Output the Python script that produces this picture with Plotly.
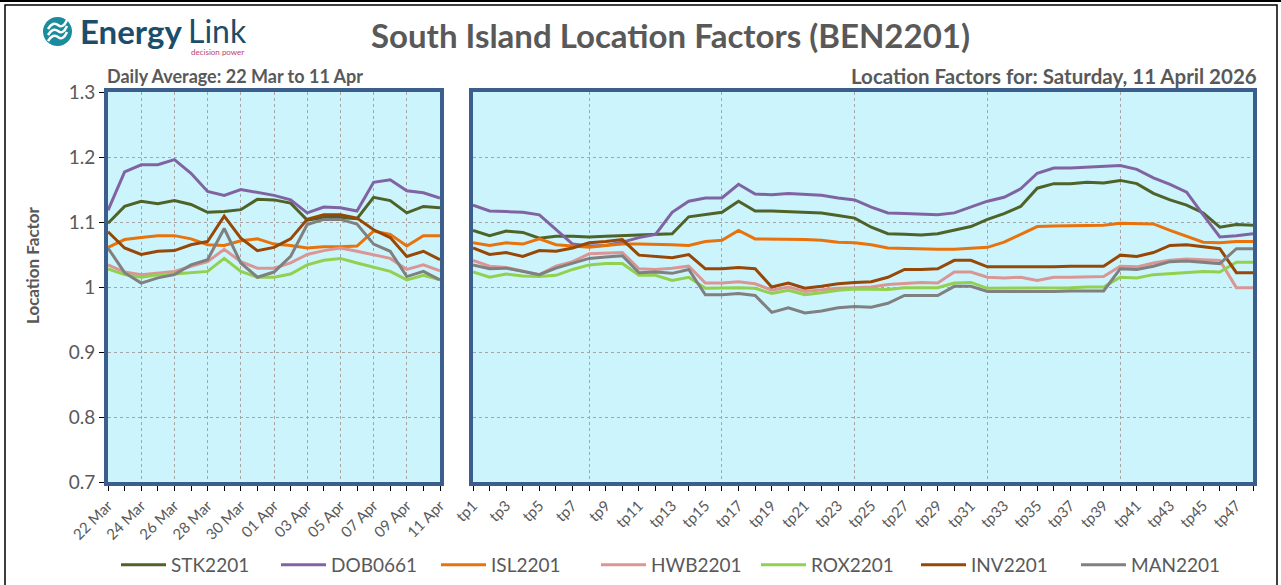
import plotly.graph_objects as go

W, H = 1281, 585

# ---------------- data ----------------
dates = ["2026-03-22", "2026-03-23", "2026-03-24", "2026-03-25", "2026-03-26", "2026-03-27",
         "2026-03-28", "2026-03-29", "2026-03-30", "2026-03-31", "2026-04-01", "2026-04-02",
         "2026-04-03", "2026-04-04", "2026-04-05", "2026-04-06", "2026-04-07", "2026-04-08",
         "2026-04-09", "2026-04-10", "2026-04-11"]

tp_index = list(range(1, 49))
tp_labels = ["tp%d" % i for i in tp_index]

series_names = ["STK2201", "DOB0661", "ISL2201", "HWB2201", "ROX2201", "INV2201", "MAN2201"]
series_colors = ["#4F6228", "#8064A2", "#E8720C", "#DA9694", "#92D050", "#974706", "#808080"]

# Daily averages (22 Mar .. 11 Apr)
daily_STK = [1.098, 1.124, 1.132, 1.128, 1.133, 1.127, 1.115, 1.116, 1.119, 1.135, 1.134,
             1.129, 1.103, 1.107, 1.107, 1.105, 1.138, 1.133, 1.114, 1.124, 1.122]
daily_DOB = [1.118, 1.177, 1.188, 1.188, 1.196, 1.175, 1.147, 1.141, 1.150, 1.145, 1.141,
             1.134, 1.114, 1.123, 1.122, 1.117, 1.161, 1.165, 1.148, 1.145, 1.137]
daily_ISL = [1.061, 1.073, 1.076, 1.079, 1.079, 1.074, 1.065, 1.064, 1.071, 1.074, 1.066,
             1.064, 1.060, 1.062, 1.062, 1.063, 1.086, 1.081, 1.063, 1.079, 1.079]
daily_HWB = [1.034, 1.023, 1.019, 1.021, 1.024, 1.032, 1.039, 1.058, 1.039, 1.029, 1.029,
             1.037, 1.050, 1.056, 1.060, 1.055, 1.049, 1.044, 1.027, 1.034, 1.025]
daily_ROX = [1.028, 1.019, 1.015, 1.019, 1.020, 1.022, 1.024, 1.044, 1.024, 1.015, 1.015,
             1.020, 1.034, 1.041, 1.044, 1.037, 1.030, 1.024, 1.011, 1.018, 1.011]
daily_INV = [1.085, 1.060, 1.050, 1.055, 1.056, 1.065, 1.070, 1.109, 1.075, 1.056, 1.061,
             1.074, 1.104, 1.111, 1.111, 1.106, 1.088, 1.076, 1.047, 1.055, 1.042]
daily_MAN = [1.060, 1.022, 1.006, 1.014, 1.019, 1.034, 1.042, 1.090, 1.037, 1.015, 1.023,
             1.047, 1.096, 1.104, 1.104, 1.097, 1.066, 1.055, 1.016, 1.024, 1.011]

# Trading periods for Saturday, 11 April 2026
tp_STK = [1.087, 1.079, 1.086, 1.084, 1.075, 1.078, 1.078, 1.077, 1.078, 1.079, 1.081, 1.082,
          1.082, 1.108, 1.112, 1.115, 1.132, 1.117, 1.117, 1.116, 1.115, 1.114, 1.110, 1.106,
          1.092, 1.082, 1.081, 1.080, 1.082, 1.087, 1.093, 1.104, 1.113, 1.124, 1.152, 1.159,
          1.159, 1.161, 1.160, 1.164, 1.159, 1.144, 1.134, 1.126, 1.114, 1.092, 1.096, 1.095]
tp_DOB = [1.126, 1.117, 1.116, 1.115, 1.111, 1.088, 1.066, 1.063, 1.064, 1.069, 1.076, 1.081,
          1.115, 1.132, 1.137, 1.137, 1.158, 1.143, 1.142, 1.144, 1.142, 1.141, 1.137, 1.134,
          1.123, 1.114, 1.113, 1.112, 1.111, 1.114, 1.123, 1.132, 1.138, 1.151, 1.175, 1.183,
          1.183, 1.184, 1.185, 1.187, 1.181, 1.168, 1.158, 1.146, 1.111, 1.077, 1.079, 1.082]
tp_ISL = [1.068, 1.064, 1.068, 1.066, 1.074, 1.065, 1.063, 1.061, 1.064, 1.066, 1.066, 1.066,
          1.065, 1.064, 1.070, 1.072, 1.087, 1.074, 1.074, 1.074, 1.073, 1.072, 1.069, 1.068,
          1.065, 1.060, 1.059, 1.058, 1.058, 1.058, 1.059, 1.061, 1.069, 1.081, 1.093, 1.094,
          1.094, 1.095, 1.095, 1.098, 1.097, 1.097, 1.087, 1.078, 1.069, 1.068, 1.070, 1.070]
tp_HWB = [1.041, 1.032, 1.030, 1.024, 1.019, 1.032, 1.039, 1.051, 1.052, 1.053, 1.028, 1.027,
          1.029, 1.032, 1.006, 1.006, 1.008, 1.005, 0.995, 1.000, 0.993, 0.996, 0.998, 0.999,
          1.000, 1.004, 1.006, 1.007, 1.006, 1.023, 1.023, 1.015, 1.014, 1.015, 1.010, 1.015,
          1.015, 1.016, 1.016, 1.032, 1.031, 1.037, 1.041, 1.043, 1.042, 1.041, 0.999, 0.999]
tp_ROX = [1.023, 1.015, 1.020, 1.017, 1.016, 1.018, 1.027, 1.034, 1.036, 1.036, 1.018, 1.018,
          1.010, 1.015, 0.998, 0.999, 0.999, 0.998, 0.990, 0.995, 0.988, 0.991, 0.995, 0.997,
          0.996, 0.996, 0.999, 0.999, 0.999, 1.006, 1.007, 0.998, 0.998, 0.998, 0.999, 0.999,
          0.999, 1.000, 1.000, 1.015, 1.014, 1.019, 1.021, 1.023, 1.024, 1.023, 1.038, 1.038]
tp_INV = [1.060, 1.050, 1.053, 1.047, 1.056, 1.055, 1.060, 1.068, 1.070, 1.073, 1.049, 1.047,
          1.045, 1.050, 1.028, 1.028, 1.030, 1.028, 1.000, 1.006, 0.998, 1.001, 1.005, 1.007,
          1.008, 1.015, 1.027, 1.027, 1.028, 1.041, 1.041, 1.031, 1.031, 1.031, 1.030, 1.031,
          1.032, 1.032, 1.032, 1.049, 1.047, 1.053, 1.064, 1.065, 1.062, 1.059, 1.022, 1.022]
tp_MAN = [1.034, 1.028, 1.029, 1.024, 1.019, 1.029, 1.037, 1.044, 1.046, 1.048, 1.022, 1.023,
          1.021, 1.027, 0.988, 0.988, 0.990, 0.987, 0.961, 0.968, 0.960, 0.963, 0.968, 0.970,
          0.969, 0.975, 0.987, 0.987, 0.987, 1.001, 1.001, 0.993, 0.993, 0.993, 0.992, 0.993,
          0.994, 0.994, 0.994, 1.028, 1.027, 1.032, 1.039, 1.040, 1.038, 1.036, 1.059, 1.059]

daily_series = [daily_STK, daily_DOB, daily_ISL, daily_HWB, daily_ROX, daily_INV, daily_MAN]
tp_series = [tp_STK, tp_DOB, tp_ISL, tp_HWB, tp_ROX, tp_INV, tp_MAN]

y_tickvals = [0.7, 0.8, 0.9, 1.0, 1.1, 1.2, 1.3]
y_ticktext = ["0.7", "0.8", "0.9", "1", "1.1", "1.2", "1.3"]

# ---------------- styling ----------------
FONT = "Lato"
GREY = "#595959"
FRAME = "#3B5E8C"
BG = "#CCF4FC"
GRID = "#A6A6A6"


def px(x):
    return x / W


def py(y):
    return 1 - y / H


fig = go.Figure()

for name, color, vals in zip(series_names, series_colors, daily_series):
    fig.add_trace(go.Scatter(x=dates, y=vals, mode="lines", name=name,
                             line=dict(color=color, width=3), xaxis="x", yaxis="y",
                             legendgroup=name, showlegend=True))
for name, color, vals in zip(series_names, series_colors, tp_series):
    fig.add_trace(go.Scatter(x=tp_index, y=vals, mode="lines", name=name,
                             line=dict(color=color, width=3), xaxis="x2", yaxis="y2",
                             legendgroup=name, showlegend=False))

ydom = [py(482), py(92)]

axis_common = dict(showline=True, mirror=True, linecolor=FRAME, linewidth=4,
                   zeroline=False, automargin=False)

fig.update_layout(
    template="none",
    width=W, height=H, autosize=False,
    margin=dict(l=0, r=0, t=0, b=0, pad=0),
    paper_bgcolor="white",
    plot_bgcolor=BG,
    font=dict(family=FONT, color=GREY),
    xaxis=dict(
        domain=[px(108), px(440)], type="date",
        range=[dates[0], dates[-1]],
        tick0=dates[0], dtick=2 * 86400000, tickformat="%d %b",
        tickangle=-45, tickfont=dict(size=15, color=GREY, family=FONT),
        ticks="outside", ticklen=5, tickcolor="black", tickwidth=1,
        showgrid=True, gridcolor=GRID, griddash="dot", gridwidth=1,
        minor=dict(dtick=86400000, tick0=dates[0], ticks="outside", ticklen=5,
                   tickcolor="black", tickwidth=1, showgrid=False),
        anchor="y", **axis_common),
    yaxis=dict(
        domain=ydom, range=[0.7, 1.3], tickvals=y_tickvals, ticktext=y_ticktext,
        tickfont=dict(size=19, color=GREY, family=FONT),
        ticks="outside", ticklen=5, tickcolor="black", tickwidth=1,
        showgrid=True, gridcolor=GRID, griddash="dot", gridwidth=1,
        anchor="x", **axis_common),
    xaxis2=dict(
        domain=[px(473), px(1253)], range=[1, 48],
        tickvals=tp_index,
        ticktext=[lab if i % 2 == 1 else "" for i, lab in zip(tp_index, tp_labels)],
        tickangle=-45, tickfont=dict(size=15, color=GREY, family=FONT),
        ticks="outside", ticklen=5, tickcolor="black", tickwidth=1,
        showgrid=False,
        minor=dict(tickvals=[8, 16, 24, 32, 40], ticks="", showgrid=True,
                   gridcolor=GRID, griddash="dot", gridwidth=1),
        anchor="y2", **axis_common),
    yaxis2=dict(
        domain=ydom, range=[0.7, 1.3], tickvals=y_tickvals,
        showticklabels=False, ticks="",
        showgrid=True, gridcolor=GRID, griddash="dot", gridwidth=1,
        anchor="x2", **axis_common),
    legend=dict(orientation="h", x=px(676), xanchor="center", y=py(565), yanchor="middle",
                font=dict(size=19, color=GREY, family=FONT), entrywidth=100, itemwidth=45,
                bgcolor="rgba(0,0,0,0)", traceorder="normal"),
    showlegend=True,
)

annotations = [
    dict(text="<b>South Island Location Factors (BEN2201)</b>", x=px(670), y=py(35),
         xref="paper", yref="paper", xanchor="center", yanchor="middle", showarrow=False,
         font=dict(size=33, color=GREY, family=FONT)),
    dict(text="<b>Daily Average: 22 Mar to 11 Apr</b>", x=px(105), y=py(76),
         xref="paper", yref="paper", xanchor="left", yanchor="middle", showarrow=False,
         font=dict(size=18, color=GREY, family=FONT)),
    dict(text="<b>Location Factors for: Saturday, 11 April 2026</b>", x=px(1259), y=py(76),
         xref="paper", yref="paper", xanchor="right", yanchor="middle", showarrow=False,
         font=dict(size=20.5, color=GREY, family=FONT)),
    dict(text="<b>Location Factor</b>", x=px(33), y=py(265), textangle=-90,
         xref="paper", yref="paper", xanchor="center", yanchor="middle", showarrow=False,
         font=dict(size=17, color=GREY, family=FONT)),
    # logo
    dict(text="<b>Energy</b>", x=px(78), y=py(31), xref="paper", yref="paper",
         xanchor="left", yanchor="middle", showarrow=False,
         font=dict(size=33, color="#1B4E6B", family=FONT)),
    dict(text="Link", x=px(186), y=py(30), xref="paper", yref="paper",
         xanchor="left", yanchor="middle", showarrow=False, height=26,
         font=dict(size=32, color="#1B4E6B", family=FONT)),
    dict(text="decision power", x=px(246), y=py(52), xref="paper", yref="paper",
         xanchor="right", yanchor="middle", showarrow=False,
         font=dict(size=8, color="#C2406E", family=FONT)),
]
fig.update_layout(annotations=annotations)

shapes = [
    # outer border
    dict(type="rect", xref="paper", yref="paper", x0=px(5), y0=py(600), x1=px(1277), y1=py(5),
         line=dict(color="black", width=1.5), fillcolor="rgba(0,0,0,0)", layer="below"),
    dict(type="line", xref="paper", yref="paper", x0=0, y0=py(1), x1=1, y1=py(1),
         line=dict(color="black", width=2)),
    # logo circle
    dict(type="circle", xref="paper", yref="paper", x0=px(43), y0=py(46), x1=px(72), y1=py(17),
         fillcolor="#1A8C9C", line=dict(width=0)),
]
for dy in (-6, 0, 6):
    shapes.append(dict(
        type="path", xref="paper", yref="paper",
        path="M %.5f %.5f Q %.5f %.5f %.5f %.5f T %.5f %.5f" % (
            px(48), py(35 + dy), px(53), py(27 + dy), px(58), py(31 + dy), px(67), py(26 + dy)),
        line=dict(color="white", width=2.5), fillcolor="rgba(0,0,0,0)"))
fig.update_layout(shapes=shapes)

fig.write_html("out.html", config={"displayModeBar": False},
               post_script="document.body.style.margin='0';document.body.style.padding='0';")
